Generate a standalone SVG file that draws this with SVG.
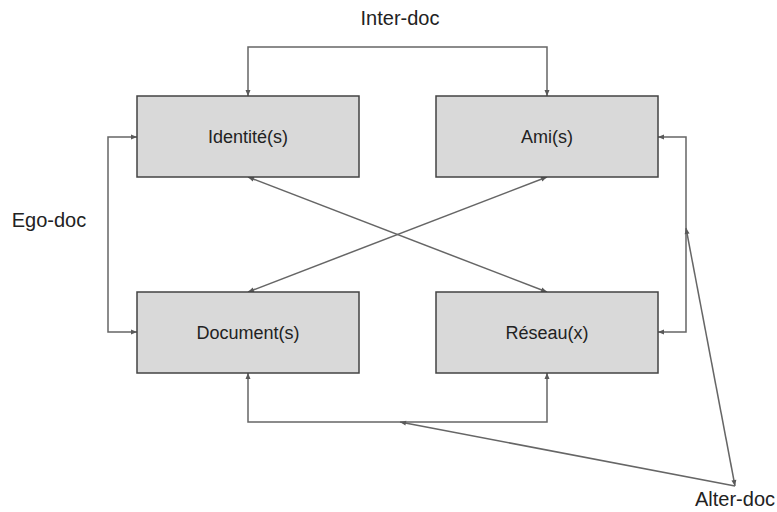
<svg xmlns="http://www.w3.org/2000/svg" width="777" height="512" viewBox="0 0 777 512">
<defs>
<marker id="ah" markerUnits="userSpaceOnUse" markerWidth="8" markerHeight="8" viewBox="0 0 8 8" refX="7" refY="4" orient="auto-start-reverse">
<path d="M1,1.5 L7,4 L1,6.5 z" fill="#595959"/>
</marker>
<style>
.box{fill:#d9d9d9;stroke:#434343;stroke-width:1.5}
.lbl{font-family:"Liberation Sans",Arial,sans-serif;font-size:18px;fill:#222;text-anchor:middle}
.cap{font-family:"Liberation Sans",Arial,sans-serif;font-size:20px;fill:#222;text-anchor:middle}
.c{fill:none;stroke:#666;stroke-width:1.5}
</style>
</defs>
<rect width="777" height="512" fill="#fff"/>
<g id="connectors">
<path class="c" d="M248,96 V47 H547 V96" marker-start="url(#ah)" marker-end="url(#ah)"/>
<path class="c" d="M137,137 H108 V332 H137" marker-start="url(#ah)" marker-end="url(#ah)"/>
<path class="c" d="M248,373 V422 H547 V373" marker-start="url(#ah)" marker-end="url(#ah)"/>
<path class="c" d="M658,137 H686 V332 H658" marker-start="url(#ah)" marker-end="url(#ah)"/>
<path class="c" d="M248,177 L547,292" marker-start="url(#ah)" marker-end="url(#ah)"/>
<path class="c" d="M248,292 L547,177" marker-start="url(#ah)" marker-end="url(#ah)"/>
<path class="c" d="M735,486 L686,228" marker-start="url(#ah)" marker-end="url(#ah)"/>
<path class="c" d="M735,486 L400,422" marker-end="url(#ah)"/>
</g>
<g id="identites"><rect class="box" x="137" y="96" width="222" height="81"/><text class="lbl" x="248" y="143">Identité(s)</text></g>
<g id="amis"><rect class="box" x="436" y="96" width="222" height="81"/><text class="lbl" x="547" y="143">Ami(s)</text></g>
<g id="documents"><rect class="box" x="137" y="292" width="222" height="81"/><text class="lbl" x="248" y="339">Document(s)</text></g>
<g id="reseaux"><rect class="box" x="436" y="292" width="222" height="81"/><text class="lbl" x="547" y="339">Réseau(x)</text></g>
<g id="labels">
<text class="cap" x="400" y="25">Inter-doc</text>
<text class="cap" x="49" y="227">Ego-doc</text>
<text class="cap" x="775" y="506" style="text-anchor:end">Alter-doc</text>
</g>
</svg>
